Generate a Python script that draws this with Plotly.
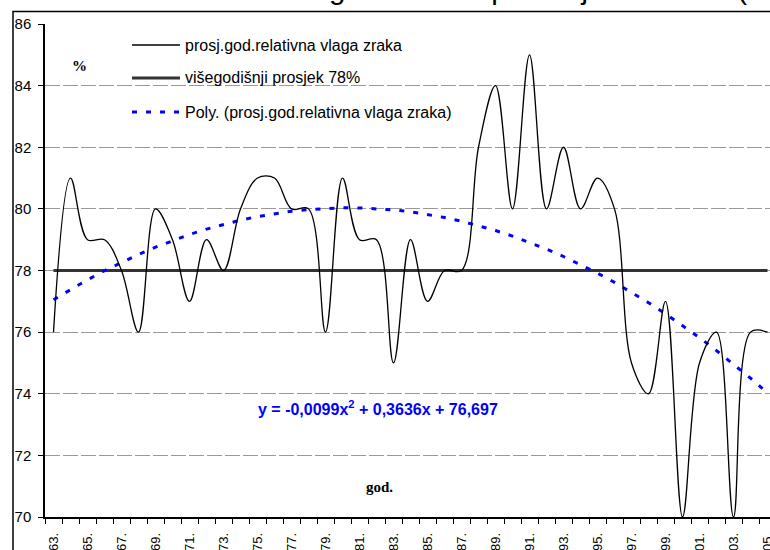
import plotly.graph_objects as go

# ---- data ----
years = list(range(1963, 2006))
humidity = [76, 81, 79, 79, 78, 76, 80, 79, 77, 79,
            78, 80, 81, 81, 80, 80, 76, 81, 79, 79,
            75, 79, 77, 78, 78, 82, 84, 80, 85, 80,
            82, 80, 81, 80, 75, 74, 77, 70, 75, 76,
            70, 76, 76]
long_term_mean = 78
poly_coef = [-0.0099, 0.3636, 76.697]   # y = a x^2 + b x + c, x = 1..n
tick_years = list(range(1963, 2006, 2))
tick_text = [f"{y % 100:02d}." for y in tick_years]
y_ticks = list(range(70, 87, 2))

series_name = "prosj.god.relativna vlaga zraka"
mean_name = "višegodišnji prosjek 78%"
poly_name = "Poly. (prosj.god.relativna vlaga zraka)"
title_text = "Relativna vlaga zraka na području Hrvatske (1963.-2005.)"
equation_text = "y = -0,0099x<sup>2</sup> + 0,3636x + 76,697"

# ---- geometry ----
W, H = 770, 550
ML, MR, MT, MB = 45, 0, 24, 33
PW = W - ML - MR
PH = H - MT - MB
CAT = 17.0
x_lo = years[0] - 0.5
x_hi = x_lo + PW / CAT

def px_x(px):
    return (px - ML) / PW

def px_y(py):
    return (H - MB - py) / PH

FONT = "Liberation Sans, Arial, sans-serif"
SERIF = "Liberation Serif, Times New Roman, serif"

trend = [poly_coef[0] * (i + 1) ** 2 + poly_coef[1] * (i + 1) + poly_coef[2]
         for i in range(len(years))]

fig = go.Figure()
fig.add_trace(go.Scatter(x=years, y=[long_term_mean] * len(years), mode="lines",
                         line=dict(color="#333333", width=3), name=mean_name,
                         showlegend=False, hoverinfo="skip"))
fig.add_trace(go.Scatter(x=years, y=trend, mode="lines",
                         line=dict(color="#0000FF", width=3, dash="5px,9px"),
                         name=poly_name, showlegend=False))
fig.add_trace(go.Scatter(x=years, y=humidity, mode="lines",
                         line=dict(color="black", width=1.3, shape="spline", smoothing=1),
                         name=series_name, showlegend=False))

shapes = []
# chart-area frame
shapes.append(dict(type="rect", xref="paper", yref="paper",
                   x0=px_x(13), x1=px_x(800), y0=px_y(580), y1=px_y(11.5),
                   line=dict(color="black", width=1.5), fillcolor="rgba(0,0,0,0)",
                   layer="above"))
# legend background
shapes.append(dict(type="rect", xref="paper", yref="paper",
                   x0=px_x(113), x1=px_x(471), y0=px_y(130), y1=px_y(28),
                   line=dict(width=0), fillcolor="white", layer="between"))
# legend samples
legend_rows = [
    (series_name, dict(color="black", width=1.3)),
    (mean_name, dict(color="#333333", width=3)),
    (poly_name, dict(color="#0000FF", width=3, dash="5px,9px")),
]
row_y = [45, 78, 112]
annotations = []
for (label, ln), yy in zip(legend_rows, row_y):
    shapes.append(dict(type="line", xref="paper", yref="paper",
                       x0=px_x(132), x1=px_x(180), y0=px_y(yy), y1=px_y(yy),
                       line=ln, layer="above"))
    annotations.append(dict(xref="paper", yref="paper", x=px_x(183), y=px_y(yy),
                            xanchor="left", yanchor="middle", showarrow=False,
                            text=label, font=dict(family=FONT, size=16, color="black")))

annotations += [
    dict(xref="paper", yref="paper", x=px_x(70), y=px_y(56), showarrow=False,
         text="<b>%</b>", font=dict(family=SERIF, size=15, color="black")),
    dict(xref="paper", yref="paper", x=px_x(379), y=px_y(497), showarrow=False,
         text="<b>god.</b>", font=dict(family=SERIF, size=15, color="black")),
    dict(xref="paper", yref="paper", x=px_x(378), y=px_y(420), showarrow=False,
         text="<b>" + equation_text + "</b>",
         font=dict(family=FONT, size=16, color="#0000FF")),
    dict(xref="paper", yref="paper", x=px_x(158), y=px_y(7), xanchor="left",
         yanchor="bottom", showarrow=False, text=title_text,
         font=dict(family=FONT, size=29.5, color="black")),
]

fig.update_layout(
    width=W, height=H,
    margin=dict(l=ML, r=MR, t=MT, b=MB, pad=0, autoexpand=False),
    paper_bgcolor="white", plot_bgcolor="white",
    showlegend=False,
    shapes=shapes, annotations=annotations,
    font=dict(family=FONT, size=15, color="black"),
)
fig.update_xaxes(
    range=[x_lo, x_hi], tickvals=tick_years, ticktext=tick_text,
    tickangle=-90, ticks="", tickfont=dict(family=FONT, size=13, color="black"),
    showline=True, linecolor="black", linewidth=1.5, showgrid=False,
    zeroline=False, automargin=False, ticklabelstandoff=9,
    ticklabeloverflow="allow",
    minor=dict(tick0=x_lo, dtick=1, ticks="outside", ticklen=5,
               tickcolor="black", tickwidth=1, showgrid=False),
)
fig.update_yaxes(
    range=[70, 86], tickvals=y_ticks, ticks="outside", ticklen=5,
    tickcolor="black", tickwidth=1, tickfont=dict(family=FONT, size=15, color="black"),
    showline=True, linecolor="black", linewidth=1.5,
    showgrid=True, gridcolor="#999999", gridwidth=1.3, griddash="15px,3px",
    zeroline=False, automargin=False, ticklabelstandoff=4,
)

fig.write_html("out.html", config={"displayModeBar": False},
               post_script="document.body.style.margin='0px';document.body.style.overflow='hidden';")
